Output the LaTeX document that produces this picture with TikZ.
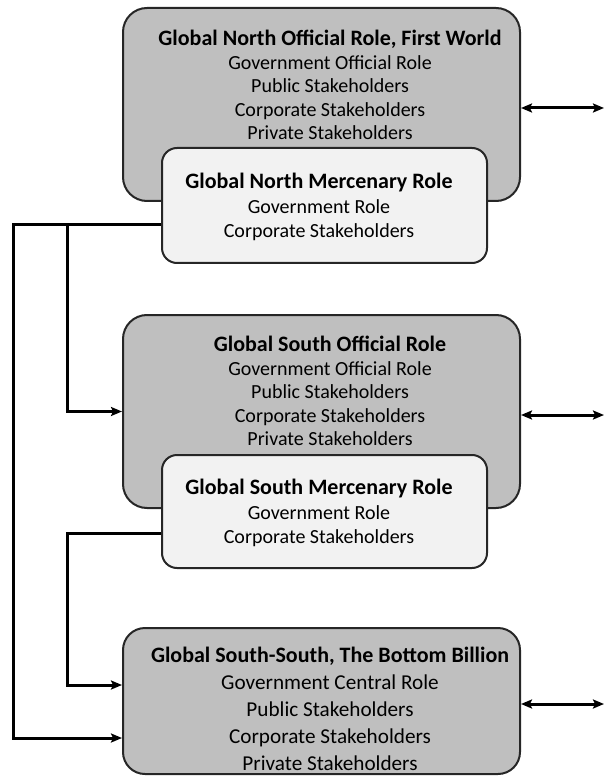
\documentclass[tikz,border=0pt]{standalone}
\usepackage{fontspec}
\setmainfont{Carlito}
\usetikzlibrary{arrows.meta}
\definecolor{boxgray}{HTML}{BFBFBF}
\definecolor{boxlight}{HTML}{F2F2F2}
\definecolor{edge}{HTML}{262626}
\newcommand\headline[1]{{\fontsize{22}{23.5}\selectfont\bfseries #1}}
\begin{document}
\begin{tikzpicture}[x=1pt, y=-1pt,
  outerbox/.style={draw=edge, line width=2pt, fill=boxgray, rounded corners=24pt,
    inner sep=0pt, minimum width=397pt},
  innerbox/.style={draw=edge, line width=2pt, fill=boxlight, rounded corners=15pt,
    inner sep=0pt, minimum width=325pt},
  txt/.style={align=center, inner sep=0pt, font=\fontsize{20}{23.6}\selectfont},
  smalltxt/.style={align=center, inner sep=0pt, font=\fontsize{20}{24.3}\selectfont},
  bigtxt/.style={align=center, inner sep=0pt, font=\fontsize{21.2}{27}\selectfont},
  conn/.style={line width=3pt, line join=miter, -{Stealth[length=11pt, width=9pt, inset=2pt]}},
  link/.style={line width=3pt, {Stealth[length=11pt, width=9pt, inset=2pt]}-{Stealth[length=11pt, width=9pt, inset=2pt]}}
]
\useasboundingbox (0,0) rectangle (605,783);

% outer (official) boxes
\node[outerbox, minimum height=193pt] (g1) at (321.5,104.5) {};
\node[outerbox, minimum height=193pt] (g2) at (321.5,411.5) {};
\node[outerbox, minimum height=146pt, rounded corners=22pt] (g3) at (321.5,701) {};

\node[txt] (g1t) at (330,85) {\headline{Global North Official Role, First World}\\
  Government Official Role\\ Public Stakeholders\\ Corporate Stakeholders\\ Private Stakeholders};
\node[txt] (g2t) at (330,391) {\headline{Global South Official Role}\\
  Government Official Role\\ Public Stakeholders\\ Corporate Stakeholders\\ Private Stakeholders};
\node[bigtxt] (g3t) at (330,709) {\headline{Global South-South, The Bottom Billion}\\
  Government Central Role\\ Public Stakeholders\\ Corporate Stakeholders\\ Private Stakeholders};

% inner (mercenary) boxes
\node[innerbox, minimum height=115pt] (l1) at (324.5,205.5) {};
\node[innerbox, minimum height=113pt] (l2) at (324.5,511.5) {};

\node[smalltxt] (l1t) at (319,207) {\headline{Global North Mercenary Role}\\
  Government Role\\ Corporate Stakeholders};
\node[smalltxt] (l2t) at (319,513) {\headline{Global South Mercenary Role}\\
  Government Role\\ Corporate Stakeholders};

% left-hand feed lines
\coordinate (far) at (13,738);
\coordinate (near) at (67,225);
\coordinate (low) at (67,685);
\draw[conn] ([yshift=-19.5pt]l1.west) -| (far) -- (g3.west |- far);
\draw[conn] (near) |- (g2.west);
\draw[conn] ([yshift=-21.5pt]l2.west) -| (low) -- (g3.west |- low);

% right-hand two-way links
\coordinate (r1) at (604,108);
\coordinate (r2) at (604,415);
\coordinate (r3) at (604,704);
\draw[link] (g1.east |- r1) -- (r1);
\draw[link] (g2.east |- r2) -- (r2);
\draw[link] (g3.east |- r3) -- (r3);
\end{tikzpicture}
\end{document}
